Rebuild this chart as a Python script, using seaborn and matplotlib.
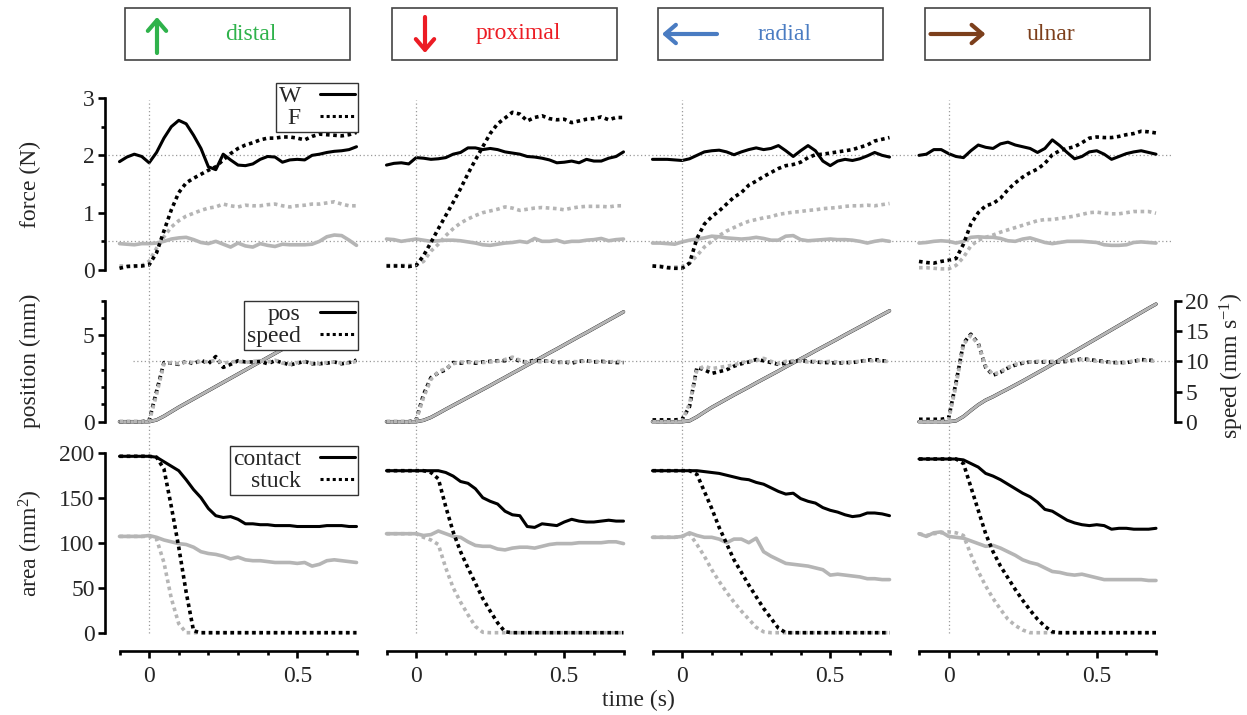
import matplotlib
matplotlib.use('Agg')
import matplotlib.pyplot as plt
import seaborn as sns
from matplotlib.lines import Line2D
from matplotlib.patches import Rectangle, FancyArrowPatch
from matplotlib.ticker import FixedLocator

# ---- data ----
time_s = [-0.1, -0.075, -0.05, -0.025, 0.0, 0.025, 0.05, 0.075, 0.1, 0.125, 0.15, 0.175,
          0.2, 0.225, 0.25, 0.275, 0.3, 0.325, 0.35, 0.375, 0.4, 0.425, 0.45, 0.475,
          0.5, 0.525, 0.55, 0.575, 0.6, 0.625, 0.65, 0.675, 0.7]

directions = ['distal', 'proximal', 'radial', 'ulnar']

# force (N): W = normal, F = friction; *_grey = second trial
W_distal = [1.89, 1.97, 2.02, 1.98, 1.87, 2.05, 2.30, 2.50, 2.61, 2.55, 2.35, 2.12, 1.80, 1.75, 2.02, 1.92, 1.83,
            1.82, 1.85, 1.93, 1.98, 1.97, 1.88, 1.92, 1.93, 1.92, 2.00, 2.02, 2.05, 2.07, 2.08, 2.10, 2.15]
F_distal = [0.03, 0.06, 0.07, 0.07, 0.09, 0.30, 0.68, 1.05, 1.35, 1.52, 1.60, 1.67, 1.74, 1.80, 1.92, 2.03, 2.12,
            2.18, 2.22, 2.27, 2.30, 2.30, 2.32, 2.32, 2.30, 2.27, 2.33, 2.37, 2.36, 2.35, 2.34, 2.36, 2.40]
W_distal_grey = [0.46, 0.45, 0.44, 0.46, 0.46, 0.47, 0.50, 0.54, 0.56, 0.57, 0.53, 0.48, 0.46, 0.50, 0.45, 0.40, 0.47,
                 0.42, 0.40, 0.46, 0.43, 0.41, 0.45, 0.44, 0.44, 0.44, 0.45, 0.50, 0.58, 0.61, 0.60, 0.52, 0.43]
F_distal_grey = [0.07, 0.07, 0.06, 0.08, 0.15, 0.38, 0.58, 0.75, 0.86, 0.94, 0.99, 1.04, 1.08, 1.10, 1.15, 1.12, 1.10,
                 1.13, 1.12, 1.12, 1.14, 1.15, 1.12, 1.10, 1.12, 1.13, 1.15, 1.15, 1.17, 1.19, 1.15, 1.12, 1.12]

W_proximal = [1.83, 1.86, 1.87, 1.85, 1.96, 1.95, 1.93, 1.94, 1.96, 2.02, 2.05, 2.13, 2.13, 2.10, 2.12, 2.10, 2.06,
              2.04, 2.02, 1.98, 1.97, 1.95, 1.92, 1.87, 1.88, 1.90, 1.87, 1.93, 1.90, 1.90, 1.95, 1.98, 2.06]
F_proximal = [0.07, 0.07, 0.07, 0.06, 0.08, 0.25, 0.48, 0.72, 0.95, 1.18, 1.42, 1.68, 1.92, 2.15, 2.38, 2.55, 2.65,
              2.75, 2.72, 2.60, 2.66, 2.69, 2.64, 2.62, 2.63, 2.57, 2.60, 2.63, 2.64, 2.67, 2.62, 2.66, 2.66]
W_proximal_grey = [0.54, 0.53, 0.50, 0.52, 0.54, 0.52, 0.50, 0.51, 0.52, 0.52, 0.51, 0.49, 0.47, 0.44, 0.43, 0.45, 0.47,
                   0.48, 0.50, 0.48, 0.55, 0.50, 0.50, 0.52, 0.48, 0.50, 0.50, 0.52, 0.53, 0.55, 0.51, 0.53, 0.54]
F_proximal_grey = [0.08, 0.08, 0.08, 0.08, 0.08, 0.15, 0.33, 0.45, 0.60, 0.72, 0.82, 0.89, 0.95, 1.00, 1.03, 1.06, 1.10,
                   1.08, 1.04, 1.06, 1.08, 1.09, 1.08, 1.07, 1.05, 1.08, 1.10, 1.11, 1.11, 1.11, 1.10, 1.12, 1.12]

W_radial = [1.93, 1.93, 1.93, 1.92, 1.91, 1.94, 2.00, 2.06, 2.08, 2.09, 2.06, 2.01, 2.06, 2.10, 2.13, 2.10, 2.12,
            2.17, 2.08, 1.98, 2.08, 2.17, 2.08, 1.90, 1.82, 1.90, 1.93, 1.91, 1.94, 1.99, 2.05, 2.00, 1.97]
F_radial = [0.07, 0.06, 0.04, 0.03, 0.03, 0.12, 0.55, 0.80, 0.93, 1.03, 1.15, 1.27, 1.35, 1.48, 1.55, 1.63, 1.70,
            1.77, 1.82, 1.84, 1.88, 1.96, 2.01, 2.02, 2.04, 2.06, 2.08, 2.10, 2.14, 2.18, 2.25, 2.28, 2.31]
W_radial_grey = [0.47, 0.47, 0.46, 0.45, 0.49, 0.52, 0.54, 0.56, 0.59, 0.58, 0.56, 0.55, 0.54, 0.55, 0.57, 0.55, 0.52,
                 0.52, 0.59, 0.60, 0.53, 0.51, 0.52, 0.53, 0.54, 0.53, 0.53, 0.52, 0.50, 0.47, 0.50, 0.52, 0.50]
F_radial_grey = [0.07, 0.07, 0.05, 0.05, 0.06, 0.12, 0.25, 0.40, 0.50, 0.60, 0.68, 0.74, 0.80, 0.85, 0.88, 0.91, 0.93,
                 0.97, 0.99, 1.01, 1.02, 1.04, 1.05, 1.07, 1.08, 1.09, 1.11, 1.12, 1.12, 1.13, 1.12, 1.14, 1.16]

W_ulnar = [2.00, 2.02, 2.10, 2.10, 2.03, 1.98, 1.96, 2.08, 2.18, 2.14, 2.12, 2.20, 2.23, 2.18, 2.15, 2.12, 2.05,
           2.12, 2.27, 2.17, 2.05, 1.94, 1.98, 2.06, 2.08, 2.02, 1.93, 1.98, 2.03, 2.06, 2.08, 2.05, 2.02]
F_ulnar = [0.15, 0.13, 0.12, 0.15, 0.17, 0.20, 0.45, 0.80, 1.00, 1.12, 1.16, 1.25, 1.40, 1.52, 1.62, 1.70, 1.76,
           1.86, 2.01, 2.08, 2.12, 2.15, 2.22, 2.30, 2.32, 2.31, 2.31, 2.33, 2.36, 2.38, 2.42, 2.41, 2.39]
W_ulnar_grey = [0.47, 0.48, 0.50, 0.51, 0.50, 0.47, 0.50, 0.57, 0.58, 0.57, 0.57, 0.55, 0.51, 0.50, 0.54, 0.56, 0.52,
                0.48, 0.46, 0.48, 0.50, 0.50, 0.50, 0.49, 0.48, 0.44, 0.43, 0.43, 0.44, 0.48, 0.49, 0.48, 0.47]
F_ulnar_grey = [0.04, 0.04, 0.03, 0.02, 0.02, 0.08, 0.22, 0.42, 0.52, 0.57, 0.61, 0.66, 0.70, 0.74, 0.78, 0.82, 0.86,
                0.88, 0.88, 0.90, 0.92, 0.94, 0.97, 1.00, 1.01, 0.99, 0.98, 0.98, 1.00, 1.02, 1.02, 1.02, 0.99]

# position (mm), same for both trials
pos_distal = [0, 0, 0, 0, 0, 0.10, 0.32, 0.58, 0.84, 1.08, 1.32, 1.56, 1.80, 2.04, 2.28, 2.52, 2.76,
              3.00, 3.24, 3.48, 3.72, 3.96, 4.20, 4.44, 4.68, 4.92, 5.16, 5.40, 5.64, 5.88, 6.12, 6.36, 6.60]
pos_proximal = [0, 0, 0, 0, 0, 0.08, 0.25, 0.48, 0.72, 0.95, 1.18, 1.41, 1.64, 1.87, 2.10, 2.34, 2.57,
                2.81, 3.04, 3.28, 3.51, 3.75, 3.99, 4.22, 4.46, 4.70, 4.94, 5.17, 5.41, 5.65, 5.89, 6.13, 6.37]
pos_radial = [0, 0, 0, 0, 0, 0.05, 0.28, 0.56, 0.83, 1.07, 1.31, 1.55, 1.78, 2.01, 2.25, 2.48, 2.71,
              2.94, 3.18, 3.41, 3.64, 3.87, 4.11, 4.34, 4.57, 4.80, 5.04, 5.27, 5.50, 5.73, 5.97, 6.20, 6.43]
pos_ulnar = [0, 0, 0, 0, 0, 0.05, 0.30, 0.65, 0.98, 1.25, 1.45, 1.68, 1.90, 2.13, 2.36, 2.60, 2.84,
             3.08, 3.33, 3.58, 3.83, 4.08, 4.33, 4.58, 4.83, 5.08, 5.33, 5.58, 5.83, 6.08, 6.33, 6.58, 6.82]

# speed (mm/s)
speed_distal = [0, 0, 0, 0, 0.2, 5.0, 9.8, 9.7, 9.5, 10.0, 9.6, 10.2, 9.6, 10.8, 9.0, 9.5, 10.1,
                9.9, 9.9, 10.0, 9.6, 10.1, 9.8, 9.4, 9.7, 10.0, 9.6, 9.6, 9.7, 9.9, 9.6, 9.8, 10.2]
speed_distal_grey = [0, 0, 0, 0, 0, 4.5, 9.6, 9.8, 9.6, 9.9, 9.8, 10.0, 9.9, 10.2, 9.7, 9.9, 10.0,
                     9.8, 10.0, 10.1, 9.9, 10.2, 9.7, 9.5, 9.8, 9.9, 9.7, 9.6, 9.8, 9.9, 9.7, 9.7, 10.0]
speed_proximal = [0, 0, 0, 0, 0.3, 4.5, 7.3, 8.1, 8.6, 9.8, 9.7, 9.9, 9.7, 9.9, 10.0, 10.1, 10.1,
                  10.6, 10.0, 9.9, 10.2, 10.0, 10.1, 9.8, 9.9, 9.7, 10.0, 10.1, 9.9, 10.0, 9.9, 9.8, 9.8]
speed_proximal_grey = [0, 0, 0, 0, 0.2, 4.0, 7.0, 8.3, 8.8, 9.6, 9.9, 9.8, 9.9, 9.8, 9.9, 10.0, 10.3,
                       10.7, 10.2, 9.8, 10.0, 9.9, 10.1, 9.9, 9.8, 10.0, 9.9, 10.1, 10.0, 9.9, 9.9, 10.0, 9.9]
speed_radial = [0.3, 0.3, 0.3, 0.3, 0.4, 2.5, 9.0, 8.6, 8.0, 8.3, 8.6, 9.2, 9.6, 9.9, 10.3, 10.1, 9.8,
                9.5, 9.7, 10.0, 10.1, 10.0, 9.9, 9.8, 9.8, 9.7, 9.8, 9.8, 10.0, 10.2, 10.3, 10.1, 10.0]
speed_radial_grey = [0, 0, 0, 0, 0.1, 3.0, 8.6, 9.2, 8.8, 9.0, 9.2, 9.4, 9.8, 10.0, 10.1, 10.5, 10.0,
                     9.6, 10.0, 10.1, 10.0, 9.9, 10.0, 9.9, 10.0, 9.9, 9.8, 9.9, 10.0, 10.1, 10.1, 10.0, 10.0]
speed_ulnar = [0.4, 0.4, 0.4, 0.4, 0.6, 6.5, 13.0, 14.5, 13.0, 9.0, 7.7, 8.2, 8.9, 9.4, 9.7, 9.9, 9.9,
               9.9, 9.9, 9.9, 10.0, 10.2, 10.4, 10.3, 10.1, 10.0, 9.8, 9.8, 9.8, 10.0, 10.3, 10.2, 10.1]
speed_ulnar_grey = [0, 0, 0, 0, 0.3, 6.0, 12.8, 14.3, 12.8, 9.2, 7.8, 8.3, 9.0, 9.5, 9.8, 9.9, 10.0,
                    10.0, 10.0, 10.0, 10.1, 10.2, 10.3, 10.2, 10.0, 9.9, 9.8, 9.7, 9.8, 10.1, 10.2, 10.1, 10.0]

# area (mm^2)
contact_distal = [196, 196, 196, 196, 196, 195, 190, 185, 180, 170, 159, 150, 138, 130, 128, 129, 126,
                  121, 121, 120, 120, 119, 119, 119, 118, 118, 118, 118, 119, 119, 119, 118, 118]
stuck_distal = [196, 196, 196, 196, 196, 195, 182, 140, 95, 45, 2, 0, 0, 0, 0, 0, 0,
                0, 0, 0, 0, 0, 0, 0, 0, 0, 0, 0, 0, 0, 0, 0, 0]
contact_distal_grey = [107, 107, 107, 107, 108, 106, 103, 101, 99, 98, 95, 90, 88, 87, 85, 82, 84,
                       81, 80, 80, 79, 78, 78, 78, 77, 78, 74, 76, 80, 81, 80, 79, 78]
stuck_distal_grey = [107, 107, 107, 107, 107, 104, 78, 38, 10, 0, 0, 0, 0, 0, 0, 0, 0,
                     0, 0, 0, 0, 0, 0, 0, 0, 0, 0, 0, 0, 0, 0, 0, 0]

contact_proximal = [180, 180, 180, 180, 180, 180, 180, 180, 178, 174, 168, 166, 160, 150, 146, 143, 135,
                    131, 130, 118, 117, 121, 120, 119, 123, 126, 124, 123, 123, 124, 125, 124, 124]
stuck_proximal = [180, 180, 180, 180, 180, 180, 178, 171, 140, 112, 90, 72, 55, 38, 24, 11, 1,
                  0, 0, 0, 0, 0, 0, 0, 0, 0, 0, 0, 0, 0, 0, 0, 0]
contact_proximal_grey = [110, 110, 110, 110, 110, 108, 109, 113, 110, 107, 106, 101, 97, 96, 96, 93, 92,
                         94, 95, 95, 94, 96, 98, 99, 99, 99, 100, 100, 100, 100, 101, 101, 99]
stuck_proximal_grey = [110, 110, 110, 110, 110, 106, 103, 98, 72, 50, 34, 20, 7, 0.5, 0, 0, 0,
                       0, 0, 0, 0, 0, 0, 0, 0, 0, 0, 0, 0, 0, 0, 0, 0]

contact_radial = [180, 180, 180, 180, 180, 180, 180, 179, 178, 177, 175, 173, 171, 170, 167, 165, 161,
                  157, 154, 155, 149, 146, 144, 139, 136, 134, 131, 129, 130, 133, 133, 132, 130]
stuck_radial = [180, 180, 180, 180, 180, 180, 176, 157, 138, 117, 99, 81, 67, 53, 40, 27, 16,
                5, 0, 0, 0, 0, 0, 0, 0, 0, 0, 0, 0, 0, 0, 0, 0]
contact_radial_grey = [106, 106, 106, 106, 107, 111, 108, 106, 106, 104, 100, 104, 104, 100, 105, 90, 85,
                       81, 77, 76, 75, 74, 72, 70, 64, 65, 64, 63, 62, 60, 60, 59, 59]
stuck_radial_grey = [106, 106, 106, 106, 107, 110, 98, 85, 70, 57, 45, 34, 24, 15, 6, 1, 0,
                     0, 0, 0, 0, 0, 0, 0, 0, 0, 0, 0, 0, 0, 0, 0, 0]

contact_ulnar = [193, 193, 193, 193, 193, 193, 192, 188, 184, 177, 174, 170, 165, 160, 155, 151, 145,
                 137, 135, 130, 125, 122, 120, 119, 120, 119, 115, 116, 116, 115, 115, 115, 116]
stuck_ulnar = [193, 193, 193, 193, 193, 193, 188, 162, 136, 110, 90, 74, 61, 48, 36, 25, 15,
               7, 1, 0, 0, 0, 0, 0, 0, 0, 0, 0, 0, 0, 0, 0, 0]
contact_ulnar_grey = [110, 107, 111, 112, 107, 106, 105, 102, 99, 96, 97, 94, 90, 86, 81, 78, 76,
                      72, 68, 67, 65, 64, 65, 63, 61, 59, 59, 59, 59, 59, 59, 58, 58]
stuck_ulnar_grey = [110, 108, 110, 111, 112, 111, 108, 87, 68, 52, 38, 26, 15, 8, 3, 0, 0,
                    0, 0, 0, 0, 0, 0, 0, 0, 0, 0, 0, 0, 0, 0, 0, 0]

force_W = [W_distal, W_proximal, W_radial, W_ulnar]
force_F = [F_distal, F_proximal, F_radial, F_ulnar]
force_W_grey = [W_distal_grey, W_proximal_grey, W_radial_grey, W_ulnar_grey]
force_F_grey = [F_distal_grey, F_proximal_grey, F_radial_grey, F_ulnar_grey]
position = [pos_distal, pos_proximal, pos_radial, pos_ulnar]
speed = [speed_distal, speed_proximal, speed_radial, speed_ulnar]
speed_grey = [speed_distal_grey, speed_proximal_grey, speed_radial_grey, speed_ulnar_grey]
contact = [contact_distal, contact_proximal, contact_radial, contact_ulnar]
stuck = [stuck_distal, stuck_proximal, stuck_radial, stuck_ulnar]
contact_grey = [contact_distal_grey, contact_proximal_grey, contact_radial_grey, contact_ulnar_grey]
stuck_grey = [stuck_distal_grey, stuck_proximal_grey, stuck_radial_grey, stuck_ulnar_grey]

dir_colors = ['#2fb24b', '#ec1c24', '#4a7cc2', '#7c3f1c']

# ---- style ----
sns.set_theme(style='ticks')
plt.rcParams['font.family'] = ['Liberation Serif', 'DejaVu Serif']
plt.rcParams['mathtext.fontset'] = 'custom'
plt.rcParams['mathtext.rm'] = 'Liberation Serif'
plt.rcParams['mathtext.it'] = 'Liberation Serif:italic'

FS = 17
BLACK = '#000000'
GREY = '#b5b5b5'
DOT = (0, (1, 1))
GRID = dict(color='#9a9a9a', lw=0.9, ls=(0, (1, 2)), zorder=0, clip_on=False)

W, H = 1247, 715
fig = plt.figure(figsize=(W / 100, H / 100), dpi=100)


def fx(px):
    return px / W


def fy(py):
    return 1 - py / H


col_left = [119.5, 386.5, 652.5, 919]
ax_w = 237
rows = [(98, 270), (301, 421.7), (452.7, 632.7)]


def make_ax(left, top, bottom):
    ax = fig.add_axes([fx(left), fy(bottom), ax_w / W, (bottom - top) / H])
    ax.patch.set_visible(False)
    for s in ax.spines.values():
        s.set_linewidth(1.9)
        s.set_color('black')
    ax.spines['top'].set_visible(False)
    ax.spines['right'].set_visible(False)
    ax.tick_params(which='major', length=5, width=1.9, labelsize=FS, color='black', pad=2.5)
    ax.tick_params(which='minor', length=3.2, width=1.9, color='black')
    ax.set_xlim(-0.1, 0.7)
    return ax


def line(ax, y, color, dotted=False, lw=2.2):
    sns.lineplot(x=time_s, y=y, ax=ax, color=color, lw=lw,
                 ls=DOT if dotted else '-', clip_on=False)


def legend(ax, labels, top_right):
    handles = [Line2D([], [], color=BLACK, lw=2.2), Line2D([], [], color=BLACK, lw=2.2, ls=DOT)]
    leg = ax.legend(handles, labels, loc='upper right', bbox_to_anchor=(fx(top_right[0]), fy(top_right[1])),
                    bbox_transform=fig.transFigure, markerfirst=False, frameon=True, fancybox=False,
                    edgecolor='#333333', framealpha=1, fontsize=FS, handlelength=1.5, handletextpad=0.8,
                    borderpad=0.12, labelspacing=0.0, borderaxespad=0)
    leg.get_frame().set_linewidth(1.0)
    leg.set_zorder(10)


for j in range(4):
    left = col_left[j]

    # header box with direction arrow
    bx = left + 5.5
    fig.add_artist(Rectangle((fx(bx), fy(60)), 225 / W, 52 / H, transform=fig.transFigure,
                             fill=False, edgecolor='#444444', lw=1.2))
    arrows = {'distal': ((bx + 32, 53), (bx + 32, 17)),
              'proximal': ((bx + 33, 17), (bx + 33, 53)),
              'radial': ((bx + 59, 34), (bx + 4, 34)),
              'ulnar': ((bx + 6, 34), (bx + 61, 34))}
    a, b = arrows[directions[j]]
    fig.add_artist(FancyArrowPatch((fx(a[0]), fy(a[1])), (fx(b[0]), fy(b[1])), transform=fig.transFigure,
                                   arrowstyle='->, head_length=0.35, head_width=0.3', mutation_scale=22,
                                   lw=3.0, color=dir_colors[j], shrinkA=0, shrinkB=0))
    fig.text(fx(bx + 126), fy(34), directions[j], color=dir_colors[j], fontsize=FS, ha='center', va='center')

    # force row
    ax_f = make_ax(left, *rows[0])
    ax_f.set_ylim(0, 3)
    line(ax_f, force_W_grey[j], GREY, lw=2.6)
    line(ax_f, force_F_grey[j], GREY, dotted=True, lw=2.6)
    line(ax_f, force_W[j], BLACK)
    line(ax_f, force_F[j], BLACK, dotted=True, lw=2.6)
    ax_f.set_yticks([0, 1, 2, 3])
    ax_f.yaxis.set_minor_locator(FixedLocator([0.5, 1.5, 2.5]))

    # position / speed row
    ax_p = make_ax(left, *rows[1])
    ax_p.set_ylim(0, 7)
    line(ax_p, position[j], BLACK, lw=2.5)
    line(ax_p, position[j], GREY, lw=2.2)
    ax_p.set_yticks([0, 5])
    ax_p.yaxis.set_minor_locator(FixedLocator([1, 2, 3, 4, 6, 7]))
    ax_s = ax_p.twinx()
    ax_s.patch.set_visible(False)
    ax_s.set_ylim(0, 20)
    line(ax_s, speed[j], BLACK, dotted=True, lw=2.6)
    line(ax_s, speed_grey[j], GREY, dotted=True, lw=2.6)
    for s in ['top', 'left', 'bottom']:
        ax_s.spines[s].set_visible(False)
    if j == 3:
        ax_s.spines['right'].set_position(('outward', 13.7))
        ax_s.spines['right'].set_linewidth(1.9)
        ax_s.spines['right'].set_color('black')
        ax_s.set_yticks([0, 5, 10, 15, 20])
        ax_s.tick_params(axis='y', length=5, width=1.9, labelsize=FS, color='black', pad=2.5)
    else:
        ax_s.spines['right'].set_visible(False)
        ax_s.set_yticks([])
    ax_s.set_ylabel('')

    # area row
    ax_a = make_ax(left, *rows[2])
    ax_a.set_ylim(0, 200)
    line(ax_a, contact_grey[j], GREY, lw=2.6)
    line(ax_a, stuck_grey[j], GREY, dotted=True, lw=2.6)
    line(ax_a, contact[j], BLACK)
    line(ax_a, stuck[j], BLACK, dotted=True, lw=2.6)
    ax_a.set_yticks([0, 50, 100, 150, 200])
    ax_a.spines['bottom'].set_position(('outward', 13.2))
    ax_a.set_xticks([0, 0.5])
    ax_a.set_xticklabels(['0', '0.5'])
    ax_a.xaxis.set_minor_locator(FixedLocator([-0.1, 0.1, 0.2, 0.3, 0.4, 0.6, 0.7]))
    ax_a.tick_params(axis='x', which='major', pad=6)

    # vertical reference line at t = 0 through all rows
    ax_a.axvline(0, ymin=0, ymax=(rows[2][1] - 100) / (rows[2][1] - rows[2][0]), **GRID)

    for ax in (ax_f, ax_p):
        ax.spines['bottom'].set_visible(False)
        ax.tick_params(axis='x', which='both', bottom=False, labelbottom=False)
    for ax in (ax_f, ax_p, ax_a):
        ax.set_xlabel('')
        ax.set_ylabel('')
        if j > 0:
            ax.spines['left'].set_visible(False)
            ax.tick_params(axis='y', which='both', left=False, labelleft=False)
        else:
            ax.spines['left'].set_position(('outward', 10.4))

    if j == 0:
        # horizontal reference lines spanning all four columns
        ax_f.axhline(2, xmin=(108 - left) / ax_w, xmax=(1172 - left) / ax_w, **GRID)
        ax_f.axhline(0.5, xmin=(108 - left) / ax_w, xmax=(1172 - left) / ax_w, **GRID)
        ax_s.axhline(10, xmin=(133 - left) / ax_w, xmax=(1172 - left) / ax_w, **GRID)
        legend(ax_f, ['W', 'F'], (358, 83))
        legend(ax_s, ['pos', 'speed'], (358, 301))
        legend(ax_a, ['contact', 'stuck'], (358, 446))

fig.text(fx(30), fy(184), 'force (N)', rotation=90, fontsize=FS, ha='center', va='center')
fig.text(fx(30), fy(361), 'position (mm)', rotation=90, fontsize=FS, ha='center', va='center')
fig.text(fx(31), fy(543), 'area (mm$^2$)', rotation=90, fontsize=FS, ha='center', va='center')
fig.text(fx(1232), fy(366), 'speed (mm s$^{-1}$)', rotation=90, fontsize=FS, ha='center', va='center')
fig.text(fx(638), fy(700), 'time (s)', fontsize=FS, ha='center', va='center')

fig.savefig('out.png', dpi=100)
